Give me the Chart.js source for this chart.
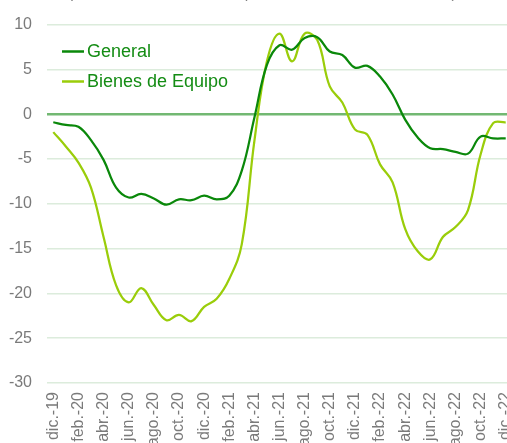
<!DOCTYPE html>
<html lang="es">
<head>
<meta charset="utf-8">
<script src="https://cdn.jsdelivr.net/npm/chart.js@4/dist/chart.umd.min.js"></script>
<style>
  html, body { margin: 0; padding: 0; background: #fff; overflow: hidden; }
  #wrap { position: relative; width: 512px; height: 443px; }
  #subtitle {
    position: absolute; left: 68px; top: -15px;
    font: 15.5px/16px "Liberation Sans", Arial, sans-serif;
    color: #7f7f7f; white-space: nowrap;
  }
</style>
</head>
<body>
<div id="wrap">
  <canvas id="chart" width="512" height="443"></canvas>
  <div id="subtitle">(Tasa de variación anual, promedio móvil de tres meses)</div>
</div>
<script>
// months dic.-19 .. dic.-22
const months = [
  'dic.-19', 'ene.-20', 'feb.-20', 'mar.-20', 'abr.-20', 'may.-20', 'jun.-20', 'jul.-20', 'ago.-20', 'sep.-20', 'oct.-20', 'nov.-20',
  'dic.-20', 'ene.-21', 'feb.-21', 'mar.-21', 'abr.-21', 'may.-21', 'jun.-21', 'jul.-21', 'ago.-21', 'sep.-21', 'oct.-21', 'nov.-21',
  'dic.-21', 'ene.-22', 'feb.-22', 'mar.-22', 'abr.-22', 'may.-22', 'jun.-22', 'jul.-22', 'ago.-22', 'sep.-22', 'oct.-22', 'nov.-22',
  'dic.-22'
];

const general = [
  -0.9, -1.2, -1.4, -2.9, -5.1, -8.2, -9.3, -8.9, -9.4, -10.1, -9.5, -9.6,
  -9.1, -9.5, -9.1, -6.3, -0.4, 5.5, 7.7, 7.2, 8.5, 8.6, 7.0, 6.6,
  5.2, 5.4, 4.2, 2.2, -0.6, -2.6, -3.8, -3.9, -4.2, -4.4, -2.5, -2.7,
  -2.7
];

const bienesEquipo = [
  -2.0, -3.6, -5.4, -8.2, -13.7, -19.1, -21.0, -19.4, -21.3, -23.0, -22.4, -23.1,
  -21.5, -20.6, -18.4, -14.5, -3.0, 5.9, 9.0, 5.9, 9.0, 8.3, 3.1, 1.3,
  -1.7, -2.3, -5.6, -7.6, -12.8, -15.3, -16.2, -13.7, -12.6, -10.7, -4.5, -1.0,
  -0.9
];

const seriesNames = ['General', 'Bienes de Equipo'];
const seriesColors = ['#0a880a', '#9acd0a'];

const yTicks = [10, 5, 0, -5, -10, -15, -20, -25, -30];

// legend drawn inside the plot area, top left
const insideLegend = {
  id: 'insideLegend',
  afterDatasetsDraw(chart) {
    const ctx = chart.ctx;
    ctx.save();
    ctx.font = '18px "Liberation Sans", Arial, sans-serif';
    ctx.textBaseline = 'middle';
    chart.data.datasets.forEach((ds, i) => {
      const y = 51.5 + i * 30;
      ctx.strokeStyle = ds.borderColor;
      ctx.lineWidth = 2.5;
      ctx.beginPath();
      ctx.moveTo(62, y);
      ctx.lineTo(84, y);
      ctx.stroke();
      ctx.fillStyle = '#148c14';
      ctx.fillText(ds.label, 87, y + 0.5);
    });
    ctx.restore();
  }
};

new Chart(document.getElementById('chart'), {
  type: 'line',
  data: {
    labels: months,
    datasets: [
      {
        label: seriesNames[0],
        data: general,
        borderColor: seriesColors[0],
        borderWidth: 2.25,
        pointRadius: 0,
        tension: 0.4,
        fill: false
      },
      {
        label: seriesNames[1],
        data: bienesEquipo,
        borderColor: seriesColors[1],
        borderWidth: 2.25,
        pointRadius: 0,
        tension: 0.4,
        fill: false
      }
    ]
  },
  options: {
    responsive: false,
    animation: false,
    layout: { padding: { top: 23, right: 0, bottom: 0, left: 0 } },
    plugins: {
      legend: { display: false },
      tooltip: { enabled: false }
    },
    scales: {
      x: {
        offset: true,
        grid: { display: false, drawTicks: false },
        border: { display: false },
        ticks: {
          autoSkip: false,
          maxRotation: 90,
          minRotation: 90,
          padding: 9,
          color: '#7a7a7a',
          font: { family: '"Liberation Sans", Arial, sans-serif', size: 16 },
          callback: function (v, i) { return i % 2 === 0 ? months[i] : ''; }
        },
        afterFit(scale) {
          scale.height = 60;
          scale.paddingLeft = 0;
          scale.paddingRight = 0;
        }
      },
      y: {
        min: -30,
        max: 10,
        afterBuildTicks(scale) {
          scale.ticks = yTicks.map(v => ({ value: v }));
        },
        grid: {
          drawTicks: false,
          color: ctx => ctx.tick && ctx.tick.value === 0 ? '#72b872' : '#dcecdc',
          lineWidth: ctx => ctx.tick && ctx.tick.value === 0 ? 2.5 : 1.5
        },
        border: { display: false },
        ticks: {
          padding: 15,
          color: '#7a7a7a',
          font: { family: '"Liberation Sans", Arial, sans-serif', size: 16 }
        },
        afterFit(scale) {
          scale.width = 47;
        }
      }
    }
  },
  plugins: [insideLegend]
});
</script>
</body>
</html>
